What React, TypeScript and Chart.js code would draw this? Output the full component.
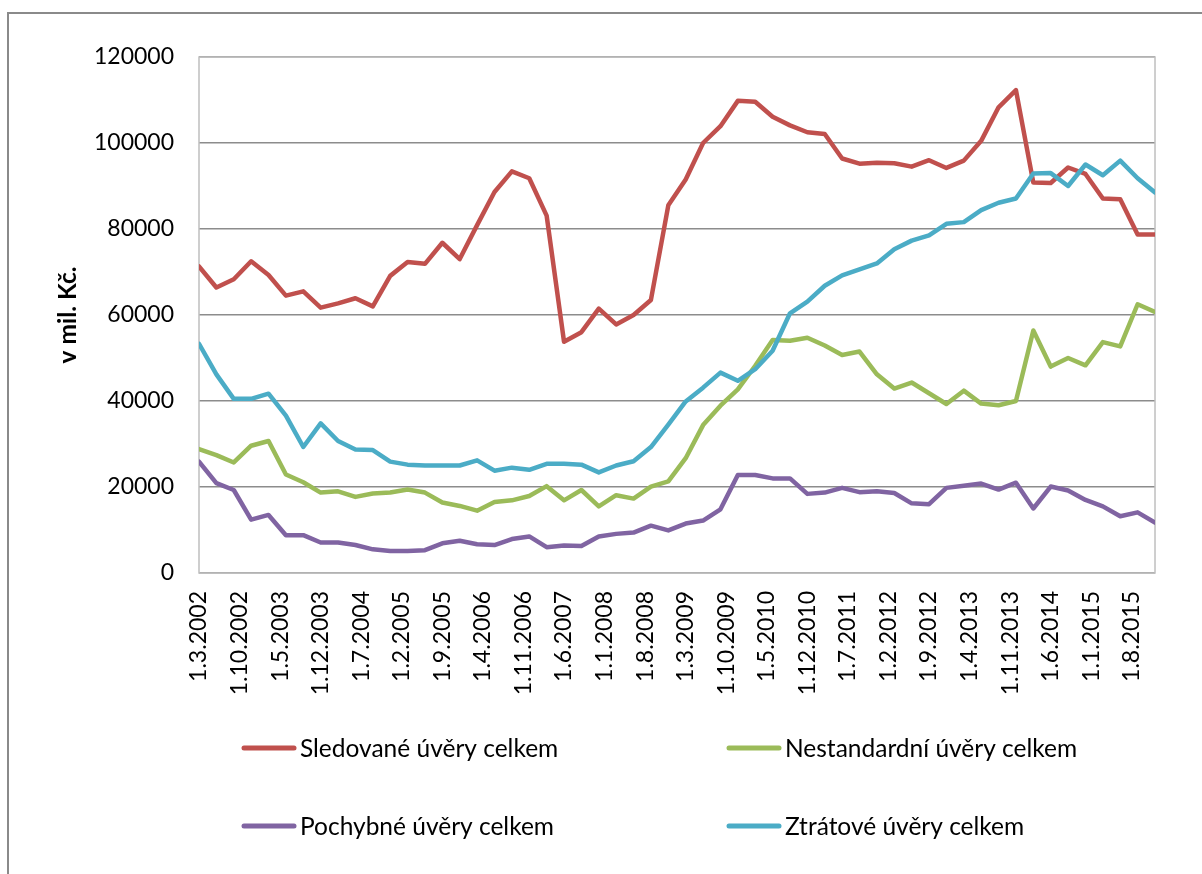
import React, { useEffect, useRef } from "react";
import { Chart, registerables } from "chart.js";

Chart.register(...registerables);

// Quarterly observation dates (month.year)
const quarters = [
  "3.2002", "6.2002", "9.2002", "12.2002",
  "3.2003", "6.2003", "9.2003", "12.2003",
  "3.2004", "6.2004", "9.2004", "12.2004",
  "3.2005", "6.2005", "9.2005", "12.2005",
  "3.2006", "6.2006", "9.2006", "12.2006",
  "3.2007", "6.2007", "9.2007", "12.2007",
  "3.2008", "6.2008", "9.2008", "12.2008",
  "3.2009", "6.2009", "9.2009", "12.2009",
  "3.2010", "6.2010", "9.2010", "12.2010",
  "3.2011", "6.2011", "9.2011", "12.2011",
  "3.2012", "6.2012", "9.2012", "12.2012",
  "3.2013", "6.2013", "9.2013", "12.2013",
  "3.2014", "6.2014", "9.2014", "12.2014",
  "3.2015", "6.2015", "9.2015", "12.2015",
];

const tickLabels = [
  "1.3.2002", "1.10.2002", "1.5.2003", "1.12.2003", "1.7.2004", "1.2.2005",
  "1.9.2005", "1.4.2006", "1.11.2006", "1.6.2007", "1.1.2008", "1.8.2008",
  "1.3.2009", "1.10.2009", "1.5.2010", "1.12.2010", "1.7.2011", "1.2.2012",
  "1.9.2012", "1.4.2013", "1.11.2013", "1.6.2014", "1.1.2015", "1.8.2015",
];

const seriesNames = [
  "Sledované úvěry celkem",
  "Nestandardní úvěry celkem",
  "Pochybné úvěry celkem",
  "Ztrátové úvěry celkem",
];

const sledovane = [
  71300, 66400, 68300, 72500, 69300, 64500, 65500, 61700, 62700, 63900,
  62000, 69100, 72300, 71900, 76800, 73000, 80900, 88600, 93400, 91800,
  83100, 53800, 56000, 61500, 57800, 60000, 63500, 85500, 91500, 100000,
  103900, 109800, 109600, 106100, 104100, 102500, 102100, 96400, 95200, 95400,
  95300, 94500, 96000, 94200, 95900, 100500, 108300, 112300, 90800, 90700,
  94300, 92800, 87100, 86900, 78700, 78700,
];

const nestandardni = [
  28800, 27400, 25700, 29600, 30700, 22900, 21100, 18700, 19000, 17700,
  18500, 18700, 19400, 18700, 16400, 15600, 14500, 16500, 16900, 17900,
  20200, 16900, 19300, 15500, 18100, 17300, 20100, 21300, 26700, 34400,
  38900, 42700, 48200, 54200, 54000, 54700, 52900, 50700, 51500, 46200,
  42900, 44300, 41800, 39300, 42400, 39400, 39000, 40000, 56400, 48000,
  50000, 48300, 53700, 52700, 62500, 60700,
];

const pochybne = [
  25900, 20900, 19300, 12400, 13500, 8800, 8800, 7100, 7100, 6500,
  5500, 5100, 5100, 5300, 6900, 7500, 6700, 6500, 7900, 8500,
  6000, 6400, 6300, 8500, 9100, 9400, 11000, 9900, 11500, 12200,
  14800, 22800, 22800, 22000, 22000, 18400, 18700, 19800, 18800, 19000,
  18600, 16200, 16000, 19800, 20300, 20800, 19400, 21000, 15000, 20100,
  19200, 17000, 15500, 13200, 14100, 11700,
];

const ztratove = [
  53300, 46200, 40500, 40500, 41700, 36600, 29300, 34800, 30700, 28700,
  28600, 25900, 25200, 25000, 25000, 25000, 26200, 23800, 24500, 24000,
  25400, 25400, 25200, 23400, 25000, 26000, 29300, 34500, 39900, 43100,
  46600, 44700, 47400, 51700, 60400, 63100, 66800, 69200, 70600, 72000,
  75300, 77300, 78500, 81200, 81600, 84400, 86100, 87100, 92900, 93000,
  90000, 95000, 92500, 95900, 91800, 88500,
];

const seriesValues = [sledovane, nestandardni, pochybne, ztratove];
const seriesColors = ["#C0504D", "#9BBB59", "#8064A2", "#4BACC6"];

const FONT = "Lato, 'Open Sans', sans-serif";

// months elapsed since March 2002 for a "d.m.yyyy" or "m.yyyy" label
function monthIndex(label: string): number {
  const p = label.split(".").map(Number);
  const month = p[p.length - 2];
  const year = p[p.length - 1];
  return (year - 2002) * 12 + (month - 3);
}

const frameLegendPlugin = {
  id: "frameLegend",
  beforeDatasetsDraw(chart: any) {
    const { ctx, chartArea: a } = chart;
    ctx.save();
    ctx.strokeStyle = "#BFBFBF";
    ctx.lineWidth = 1.5;
    ctx.strokeRect(a.left, a.top, a.right - a.left, a.bottom - a.top);
    ctx.restore();
  },
  afterDraw(chart: any) {
    const { ctx, chartArea: a } = chart;
    ctx.save();
    chart.data.datasets.forEach((ds: any, i: number) => {
      const col = i % 2;
      const row = Math.floor(i / 2);
      const x0 = a.left + (col ? 528 : 43);
      const y = a.bottom + (row ? 253 : 175);
      ctx.strokeStyle = ds.borderColor;
      ctx.lineWidth = 5;
      ctx.lineCap = "round";
      ctx.beginPath();
      ctx.moveTo(x0 + 2, y);
      ctx.lineTo(x0 + 52, y);
      ctx.stroke();
      ctx.fillStyle = "#000";
      ctx.font = `24.5px ${FONT}`;
      ctx.textBaseline = "alphabetic";
      ctx.textAlign = "left";
      ctx.fillText(ds.label, x0 + 58, y + 9);
    });
    ctx.restore();
  },
};

export default function App() {
  const ref = useRef<HTMLCanvasElement>(null);

  useEffect(() => {
    const datasets = seriesNames.map((name, i) => ({
      label: name,
      data: seriesValues[i].map((v, k) => ({ x: monthIndex(quarters[k]), y: v })),
      borderColor: seriesColors[i],
      backgroundColor: seriesColors[i],
      borderWidth: 4.5,
      pointRadius: 0,
      tension: 0,
      borderJoinStyle: "round" as const,
      borderCapStyle: "round" as const,
      order: seriesNames.length - 1 - i,
    }));

    const chart = new Chart(ref.current as HTMLCanvasElement, {
      type: "line",
      data: { datasets },
      options: {
        responsive: false,
        animation: false,
        layout: { padding: { left: 0, top: 43, right: 50, bottom: 167 } },
        plugins: {
          legend: { display: false },
          tooltip: { enabled: false },
        },
        scales: {
          x: {
            type: "linear",
            min: monthIndex(quarters[0]),
            max: monthIndex(quarters[quarters.length - 1]),
            grid: { display: false, drawTicks: false },
            border: { display: false },
            afterBuildTicks: (s: any) => {
              s.ticks = tickLabels.map((l) => ({ value: monthIndex(l) }));
            },
            afterFit: (s: any) => {
              s.height = 150;
            },
            ticks: {
              autoSkip: false,
              minRotation: 90,
              maxRotation: 90,
              padding: 18,
              color: "#000",
              font: { family: FONT, size: 23 },
              callback: (_v: any, idx: number) => tickLabels[idx],
            },
          },
          y: {
            min: 0,
            max: 120000,
            grid: { color: "#8C8C8C", lineWidth: 1.5, drawTicks: false },
            border: { display: false },
            afterFit: (s: any) => {
              s.width = 190;
            },
            ticks: {
              stepSize: 20000,
              padding: 25,
              color: "#000",
              font: { family: FONT, size: 23 },
              callback: (v: any) => String(v),
            },
            title: {
              display: true,
              text: "v mil. Kč.",
              color: "#000",
              font: { family: FONT, size: 24.5, weight: "bold" },
              padding: { top: 44, bottom: 0 },
            },
          },
        },
      } as any,
      plugins: [frameLegendPlugin],
    });
    return () => chart.destroy();
  }, []);

  return (
    <div
      style={{
        position: "fixed",
        left: 7,
        top: 12,
        width: 1200,
        height: 880,
        boxSizing: "border-box",
        border: "2px solid #8A8A8A",
        background: "#fff",
      }}
    >
      <canvas ref={ref} width={1196} height={876} style={{ display: "block" }} />
    </div>
  );
}
